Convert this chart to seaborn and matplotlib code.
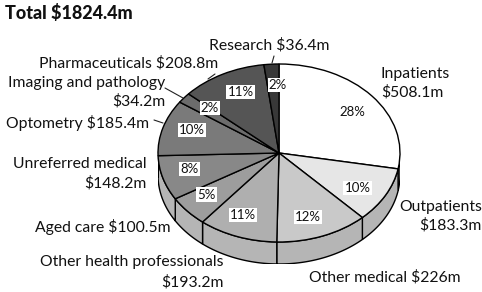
import numpy as np
import matplotlib
matplotlib.use("Agg")
import matplotlib.pyplot as plt
from matplotlib.patches import Polygon
from matplotlib.lines import Line2D
import seaborn as sns

sns.set_theme(style="white")
plt.rcParams["font.family"] = ["Lato", "DejaVu Sans"]

# ---- data ----
categories = ["Inpatients", "Outpatients", "Other medical", "Other health professionals",
              "Aged care", "Unreferred medical", "Optometry", "Imaging and pathology",
              "Pharmaceuticals", "Research"]
values = [508.1, 183.3, 226.0, 193.2, 100.5, 148.2, 185.4, 34.2, 208.8, 36.4]
pct_labels = ["28%", "10%", "12%", "11%", "5%", "8%", "10%", "2%", "11%", "2%"]
value_labels = ["$508.1m", "$183.3m", "$226m", "$193.2m", "$100.5m", "$148.2m",
                "$185.4m", "$34.2m", "$208.8m", "$36.4m"]
title = "Total $1824.4m"
colors = ["#ffffff", "#e6e6e6", "#c9c9c9", "#afafaf", "#9d9d9d", "#888888",
          "#7a7a7a", "#6c6c6c", "#555555", "#383838"]
side_color = "#b5b5b5"

W, H = 482, 292
fig = plt.figure(figsize=(W / 100, H / 100), dpi=100)

cx, cy, rx, ry, depth = 279, 153, 121, 89, 22
d = depth / ry
ax = fig.add_axes([(cx - rx) / W, 1 - (cy + ry + depth) / H, 2 * rx / W, (2 * ry + depth) / H])

wedges, _ = ax.pie(values, colors=colors, startangle=90, counterclock=False, radius=1,
                   wedgeprops=dict(edgecolor="black", linewidth=1.0, zorder=3), frame=False)
ax.set_aspect("auto")
ax.set_xlim(-1, 1)
ax.set_ylim(-1 - d, 1)
ax.axis("off")

# side of the 3D pie (front half only)
for w in wedges:
    ts = np.radians(np.linspace(w.theta1, w.theta2, 300))
    ts = ts[np.sin(ts) <= 0]
    if len(ts) < 2:
        continue
    top = np.column_stack([np.cos(ts), np.sin(ts)])
    bot = np.column_stack([np.cos(ts[::-1]), np.sin(ts[::-1]) - d])
    poly = Polygon(np.vstack([top, bot]), closed=True, facecolor=side_color,
                   edgecolor="black", linewidth=1.0, zorder=1)
    ax.add_patch(poly)

# percentage labels
for w, lab in zip(wedges, pct_labels):
    mid = np.radians((w.theta1 + w.theta2) / 2 - 3)
    ax.text(0.76 * np.cos(mid), 0.76 * np.sin(mid), lab, ha="center", va="center",
            fontsize=9.5, color="#111111", zorder=5,
            bbox=dict(boxstyle="square,pad=0.08", facecolor="white", edgecolor="none"))

def ftext(x, y, s, ha="left", **kw):
    fig.text(x / W, 1 - y / H, s, ha=ha, va="center", fontsize=11.3, color="#111111", **kw)

# outer labels
ftext(381, 74, "Inpatients")
ftext(381, 92, value_labels[0])
ftext(482, 207, "Outpatients", ha="right")
ftext(482, 225, value_labels[1], ha="right")
ftext(385, 277, f"Other medical {value_labels[2]}", ha="center")
ftext(224, 262, "Other health professionals", ha="right")
ftext(224, 282, value_labels[3], ha="right")
ftext(171, 227, f"Aged care {value_labels[4]}", ha="right")
ftext(147, 164, "Unreferred medical", ha="right")
ftext(147, 183, value_labels[5], ha="right")
ftext(149, 123, f"Optometry {value_labels[6]}", ha="right")
ftext(165, 83, "Imaging and pathology", ha="right")
ftext(165, 101, value_labels[7], ha="right")
ftext(218, 63, f"Pharmaceuticals {value_labels[8]}", ha="right")
ftext(269, 45, f"Research {value_labels[9]}", ha="center")

fig.text(5 / W, 1 - 13 / H, title, ha="left", va="center", fontsize=13,
         fontweight="black", color="#111111")

# leader ticks
for (x0, y0, x1, y1) in [(272, 63, 274, 56), (208, 79, 215, 74), (165, 88, 183, 98),
                         (154, 120, 163, 123)]:
    fig.add_artist(Line2D([x0 / W, x1 / W], [1 - y0 / H, 1 - y1 / H], color="#222222",
                          linewidth=0.8))

fig.savefig("out.png", dpi=100)
